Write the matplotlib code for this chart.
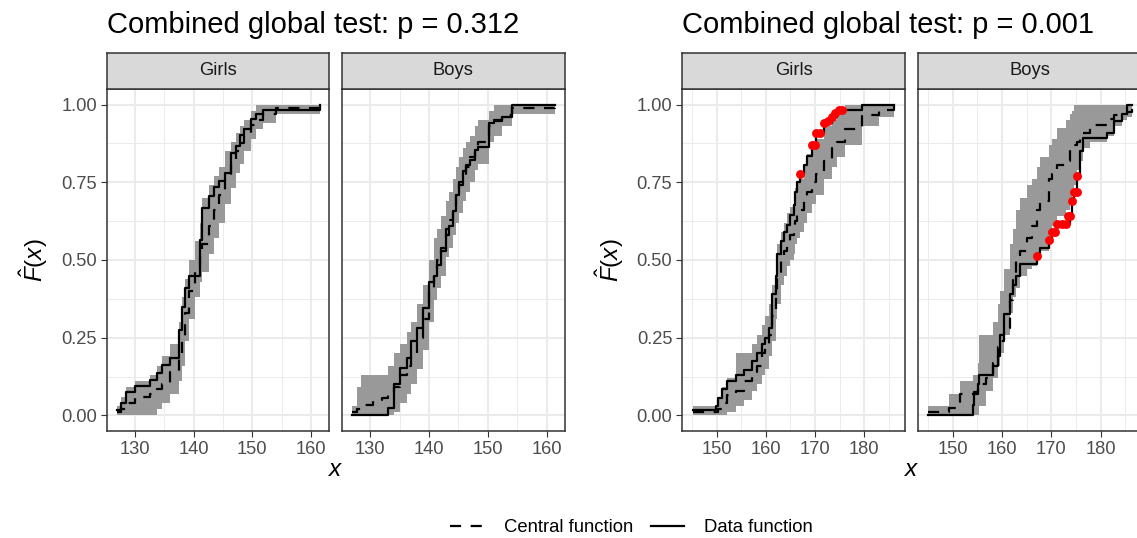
import matplotlib
matplotlib.use("Agg")
import matplotlib.pyplot as plt
from matplotlib.lines import Line2D

plt.rcParams['font.family'] = ['Liberation Sans', 'DejaVu Sans']
plt.rcParams['mathtext.fontset'] = 'custom'
plt.rcParams['mathtext.rm'] = 'Liberation Sans'
plt.rcParams['mathtext.it'] = 'Liberation Sans:italic'

# ---- data ----
titles = ['Combined global test: p = 0.312', 'Combined global test: p = 0.001']
facets = ['Girls', 'Boys']

# left plot, Girls
lg_x = [126.9, 127.6, 128.5, 130.0, 132.6, 133.7, 134.6, 136.0, 137.5, 138.0, 138.5, 139.2, 140.2, 141.1, 141.5,
        142.6, 143.4, 144.4, 145.4, 146.4, 147.3, 147.9, 148.6, 149.8, 150.6, 151.9, 154.0, 157.0, 161.6]
lg_data = [.018, .04, .077, .094, .113, .136, .163, .185, .275, .35, .41, .447, .447, .565, .667,
           .705, .735, .755, .78, .845, .866, .903, .92, .952, .968, .984, .984, .984, 1.0]
lg_central = [.01, .02, .04, .06, .07, .085, .10, .14, .19, .25, .33, .40, .46, .52, .55,
              .61, .66, .71, .76, .81, .85, .875, .90, .935, .95, .97, .99, .99, 1.0]
lg_lo = [0, 0, 0, 0, 0, .02, .04, .07, .11, .16, .24, .31, .38, .43, .46,
         .52, .57, .62, .68, .73, .78, .81, .85, .89, .92, .94, .97, .97, .98]
lg_hi = [.03, .06, .09, .11, .13, .16, .19, .23, .30, .38, .44, .50, .56, .62, .70,
         .74, .77, .80, .85, .88, .91, .93, .95, .98, 1.0, 1.0, 1.0, 1.0, 1.0]

# left plot, Boys
lb_x = [126.9, 127.7, 128.5, 130.5, 132.0, 133.1, 134.0, 135.1, 136.3, 136.9, 138.0, 138.9, 140.0, 140.9, 141.4, 142.0,
        142.9, 143.4, 144.0, 144.6, 145.1, 145.7, 146.3, 146.9, 147.8, 148.3, 150.2, 151.1, 152.4, 154.1, 158.0, 161.4]
lb_data = [0, 0, 0, 0, 0, .025, .10, .153, .185, .24, .28, .346, .43, .448, .485, .53,
           .58, .61, .657, .71, .75, .786, .807, .823, .855, .865, .94, .946, .96, 1.0, 1.0, 1.0]
lb_central = [.01, .02, .035, .05, .055, .07, .09, .13, .16, .19, .25, .31, .40, .47, .50, .54,
              .60, .63, .67, .71, .74, .77, .80, .83, .86, .88, .93, .95, .965, .99, .99, 1.0]
lb_lo = [0, 0, 0, 0, 0, 0, .01, .04, .07, .10, .15, .21, .30, .37, .41, .45,
         .51, .54, .58, .62, .65, .69, .72, .75, .79, .81, .88, .90, .93, .97, .97, .98]
lb_hi = [.03, .09, .13, .13, .13, .16, .20, .23, .27, .30, .36, .42, .50, .57, .60, .64,
         .69, .72, .76, .80, .83, .86, .88, .90, .93, .95, .98, 1.0, 1.0, 1.0, 1.0, 1.0]

# right plot, Girls
rg_x = [145.1, 149.8, 150.3, 151.1, 152.2, 153.9, 155.5, 157.2, 158.2, 159.3, 159.9, 160.6, 161.3, 162.0, 162.3, 163.0, 163.6,
        164.3, 165.0, 165.7, 166.0, 166.4, 167.0, 167.7, 168.4, 169.4, 170.1, 171.8, 173.4, 174.5, 176.1, 179.5, 183.0, 186.0]
rg_data = [.019, .03, .057, .084, .11, .13, .147, .175, .20, .23, .25, .28, .39, .45, .52, .56, .59,
           .614, .646, .678, .72, .75, .778, .807, .834, .871, .909, .94, .96, .98, .984, 1.0, 1.0, 1.0]
rg_central = [.01, .01, .02, .04, .065, .08, .11, .14, .16, .20, .22, .26, .32, .40, .45, .50, .53,
              .56, .58, .60, .625, .645, .66, .69, .72, .75, .775, .82, .86, .88, .92, .965, .984, 1.0]
rg_lo = [0, 0, 0, 0, .01, .03, .05, .08, .10, .13, .15, .19, .24, .31, .36, .42, .45,
         .48, .50, .52, .55, .57, .59, .62, .65, .68, .71, .76, .80, .83, .87, .93, .96, .97]
rg_hi = [.03, .03, .06, .09, .12, .20, .20, .23, .26, .29, .32, .36, .42, .50, .55, .59, .62,
         .65, .67, .70, .73, .755, .76, .81, .84, .86, .89, .93, .95, .97, 1.0, 1.0, 1.0, 1.0]
rg_out_x = [167.0, 169.4, 169.9, 170.3, 171.1, 171.9, 172.6, 173.4, 174.1, 174.8, 175.5]
rg_out_y = [.778, .871, .871, .909, .909, .94, .946, .96, .973, .984, .984]

# right plot, Boys
rb_x = [144.9, 149.3, 151.4, 154.1, 154.4, 155.1, 155.4, 156.8, 158.2, 159.2, 159.5, 160.5, 161.6, 162.2, 162.9, 163.6, 165.0, 166.0,
        167.0, 167.7, 169.6, 170.1, 171.2, 173.0, 173.8, 174.2, 174.7, 175.3, 175.9, 176.5, 177.9, 181.3, 182.7, 184.4, 185.4, 186.4]
rb_data = [0, 0, 0, .035, .068, .10, .13, .13, .16, .19, .26, .325, .39, .42, .45, .486, .486, .486,
           .512, .54, .564, .59, .616, .616, .64, .69, .72, .77, .85, .893, .893, .91, .946, .97, 1.0, 1.0]
rb_central = [.01, .025, .068, .07, .075, .09, .10, .12, .17, .22, .24, .28, .37, .45, .50, .53, .57, .61,
              .66, .69, .76, .775, .807, .82, .86, .865, .87, .88, .90, .91, .935, .955, .965, .97, .975, 1.0]
rb_lo = [0, 0, 0, 0, 0, 0, .03, .08, .12, .16, .20, .26, .33, .38, .41, .45, .47, .48,
         .52, .53, .58, .61, .64, .66, .68, .72, .74, .79, .82, .86, .88, .90, .93, .95, .96, .97]
rb_hi = [.03, .07, .11, .13, .13, .17, .26, .26, .30, .36, .40, .47, .55, .60, .66, .70, .74, .76,
         .80, .83, .87, .89, .925, .95, .97, .98, 1.0, 1.0, 1.0, 1.0, 1.0, 1.0, 1.0, 1.0, 1.0, 1.0]
rb_out_x = [167.0, 169.6, 170.1, 170.7, 171.2, 172.1, 173.0, 173.3, 173.8, 174.2, 174.7, 175.2, 175.3]
rb_out_y = [.512, .564, .59, .59, .616, .616, .616, .64, .64, .69, .72, .72, .77]

y_ticks = [0, 0.25, 0.5, 0.75, 1.0]
y_tick_labels = ['0.00', '0.25', '0.50', '0.75', '1.00']
y_minor = [0.125, 0.375, 0.625, 0.875]
left_xticks = [130, 140, 150, 160]
left_xminor = [135, 145, 155]
right_xticks = [150, 160, 170, 180]
right_xminor = [145, 155, 165, 175, 185]

# ---- layout ----
W, H = 1137, 538
BORDER = '#333333'
GRID = '#EBEBEB'


def px_rect(l, t, r, b):
    return [l / W, 1 - b / H, (r - l) / W, (b - t) / H]


def draw_panel(ax, x, data, central, lo, hi, out_x, out_y, xlim, xticks, xminor, first):
    ax.set_xlim(*xlim)
    ax.set_ylim(-0.05, 1.05)
    ax.set_xticks(xticks)
    ax.set_xticks(xminor, minor=True)
    ax.set_yticks(y_ticks)
    ax.set_yticks(y_minor, minor=True)
    ax.set_yticklabels(y_tick_labels)
    ax.grid(which='major', color=GRID, lw=1.45, zorder=0)
    ax.grid(which='minor', color=GRID, lw=0.7, zorder=0)
    ax.set_axisbelow(True)

    ax.fill_between(x, lo, hi, step='post', color='#999999', lw=0, zorder=2)
    ax.plot(x, central, drawstyle='steps-post', color='black', lw=1.6, dashes=(5, 4.3), zorder=3)
    ax.plot(x, data, drawstyle='steps-post', color='black', lw=1.6, zorder=4)
    if out_x:
        ax.plot(out_x, out_y, 'o', color='#FF0000', ms=6.4, mec='none', zorder=5)

    for s in ax.spines.values():
        s.set_color(BORDER)
        s.set_linewidth(1.1)
    ax.tick_params(which='both', direction='out', length=4, width=0.8, color=BORDER,
                   labelsize=13.2, labelcolor='#4D4D4D', pad=3)
    ax.tick_params(which='minor', length=0)
    if not first:
        ax.tick_params(axis='y', left=False, labelleft=False)


def add_strip(fig, l, r, label):
    s = fig.add_axes(px_rect(l, 52.7, r, 89.0))
    s.set_facecolor('#D9D9D9')
    s.set_xticks([])
    s.set_yticks([])
    for sp in s.spines.values():
        sp.set_color(BORDER)
        sp.set_linewidth(1.1)
    s.text(0.5, 0.5, label, transform=s.transAxes, ha='center', va='center',
           fontsize=13.2, color='#1A1A1A')


fig = plt.figure(figsize=(W / 100, H / 100), dpi=100)

panels = [
    (lg_x, lg_data, lg_central, lg_lo, lg_hi, [], [], (106.7, 329.0), (125.17, 163.1), left_xticks, left_xminor, True, 'Girls'),
    (lb_x, lb_data, lb_central, lb_lo, lb_hi, [], [], (341.7, 565.0), (125.17, 163.1), left_xticks, left_xminor, False, 'Boys'),
    (rg_x, rg_data, rg_central, rg_lo, rg_hi, rg_out_x, rg_out_y, (682.0, 905.0), (142.95, 188.3), right_xticks, right_xminor, True, 'Girls'),
    (rb_x, rb_data, rb_central, rb_lo, rb_hi, rb_out_x, rb_out_y, (918.0, 1141.5), (142.95, 188.3), right_xticks, right_xminor, False, 'Boys'),
]

for p in panels:
    x, d, c, lo, hi, ox, oy, (l, r), xlim, xt, xm, first, lab = p
    ax = fig.add_axes(px_rect(l, 89.0, r, 431.0))
    draw_panel(ax, x, d, c, lo, hi, ox, oy, xlim, xt, xm, first)
    add_strip(fig, l, r, lab)

# titles and axis labels for the two combined plots
for title, tx, ylx, xlx in zip(titles, [106.7, 682.0], [34.0, 609.5], [336.0, 912.0]):
    fig.text(tx / W, 1 - 33.3 / H, title, fontsize=21, ha='left', va='baseline', color='black')
    fig.text(ylx / W, 1 - 260 / H, r'$\hat{F}(x)$', fontsize=17.5, rotation=90, ha='center', va='center')
    fig.text(xlx / W, 1 - 470 / H, r'$x$', fontsize=17.5, ha='center', va='center')

handles = [Line2D([], [], color='black', lw=1.6, dashes=(5, 4.3)),
           Line2D([], [], color='black', lw=1.6)]
fig.legend(handles, ['Central function', 'Data function'], loc='center',
           bbox_to_anchor=(631.5 / W, 1 - 527.7 / H), ncol=2, frameon=False, fontsize=13.3,
           handlelength=1.8, handletextpad=1.1, columnspacing=0.95, borderpad=0, borderaxespad=0)

fig.savefig('out.png', dpi=100)
